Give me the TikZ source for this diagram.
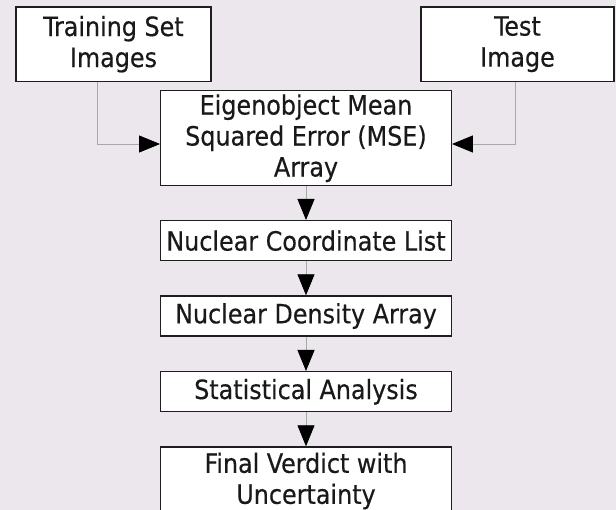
\documentclass[tikz,border=0pt]{standalone}
\usepackage{fontspec}
\setmainfont[FakeBold=0.4]{DejaVu Sans Condensed}
\usetikzlibrary{arrows.meta,calc}
\definecolor{bgc}{HTML}{ECE7EC}
\definecolor{linec}{HTML}{A8A8A8}
\definecolor{boxc}{HTML}{1E1E1E}
\tikzset{
  box/.style={draw=boxc, line width=1.4pt, fill=white, align=center, inner sep=0pt,
    text=black!90, font=\fontsize{26.5pt}{31pt}\selectfont},
  conn/.style={draw=linec, line width=0.9pt, -{Triangle[length=21pt,width=17pt,black]}}
}
\begin{document}
\begin{tikzpicture}[x=1pt,y=-1pt]
\useasboundingbox[fill=bgc] (0,0) rectangle (616,510);
\node[box, minimum width=195pt, minimum height=74.7pt] (train) at (113.5,44.2) {Training Set\\Images};
\node[box, minimum width=193pt, minimum height=74.7pt] (test) at (517.5,44.2) {Test\\Image};
\node[box, minimum width=290.5pt, minimum height=95pt] (mse) at (306,138.2) {Eigenobject Mean\\Squared Error (MSE)\\Array};
\node[box, minimum width=291pt, minimum height=40pt] (coord) at (306,240.7) {Nuclear Coordinate List};
\node[box, minimum width=291pt, minimum height=40pt] (dens) at (306,316) {Nuclear Density Array};
\node[box, minimum width=291pt, minimum height=40pt] (stat) at (306,391.7) {Statistical Analysis};
\node[box, minimum width=291pt, minimum height=68pt] (final) at (306,481) {Final Verdict with\\Uncertainty};
\coordinate (tl) at (97.7,82);
\coordinate (tr) at (515.7,82);
\coordinate (ml) at (mse.west |- 0,144);
\coordinate (mr) at (mse.east |- 0,144);
\draw[conn] (tl) |- (ml);
\draw[conn] (tr) |- (mr);
\draw[conn] (mse) -- (coord);
\draw[conn] (coord) -- (dens);
\draw[conn] (dens) -- (stat);
\draw[conn] (stat) -- (final);
\end{tikzpicture}
\end{document}
